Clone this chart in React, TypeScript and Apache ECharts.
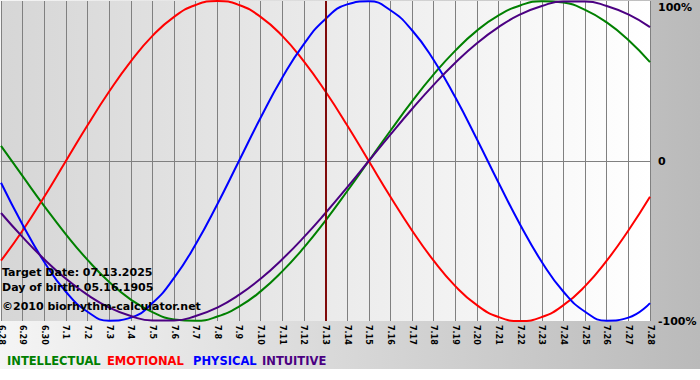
import React, { useEffect, useRef } from "react";
import * as echarts from "echarts";

const categories = [
  "6.28", "6.29", "6.30", "7.1", "7.2", "7.3", "7.4", "7.5", "7.6", "7.7", "7.8",
  "7.9", "7.10", "7.11", "7.12", "7.13", "7.14", "7.15", "7.16", "7.17", "7.18",
  "7.19", "7.20", "7.21", "7.22", "7.23", "7.24", "7.25", "7.26", "7.27", "7.28",
];

const intellectual = [
  9.5, -9.5, -28.2, -45.8, -61.8, -75.6, -86.6, -94.5, -99.0, -99.9, -97.2, -91.0,
  -81.5, -69.0, -54.1, -37.2, -18.9, 0, 18.9, 37.2, 54.1, 69.0, 81.5, 91.0, 97.2,
  99.9, 99.0, 94.5, 86.6, 75.6, 61.8,
];
const emotional = [
  -62.3, -43.4, -22.3, 0, 22.3, 43.4, 62.3, 78.2, 90.1, 97.5, 100, 97.5, 90.1, 78.2,
  62.3, 43.4, 22.3, 0, -22.3, -43.4, -62.3, -78.2, -90.1, -97.5, -100, -97.5, -90.1,
  -78.2, -62.3, -43.4, -22.3,
];
const physical = [
  -13.6, -39.8, -63.1, -81.7, -94.2, -99.8, -97.9, -88.8, -73.1, -52.0, -27.0, 0,
  27.0, 52.0, 73.1, 88.8, 97.9, 99.8, 94.2, 81.7, 63.1, 39.8, 13.6, -13.6, -39.8,
  -63.1, -81.7, -94.2, -99.8, -97.9, -88.8,
];
const intuitive = [
  -32.5, -47.6, -61.4, -73.6, -83.7, -91.6, -96.9, -99.7, -99.7, -96.9, -91.6, -83.7,
  -73.6, -61.4, -47.6, -32.5, -16.5, 0, 16.5, 32.5, 47.6, 61.4, 73.6, 83.7, 91.6,
  96.9, 99.7, 99.7, 96.9, 91.6, 83.7,
];

const targetDay = "7.13";
const infoLines = [
  "Target Date: 07.13.2025",
  "Day of birth: 05.16.1905",
  "\u00a92010 biorhythm-calculator.net",
];
const legendNames = ["INTELLECTUAL", "EMOTIONAL", "PHYSICAL", "INTUITIVE"];
const colors = ["#008000", "#ff0000", "#0000ff", "#4b0082"];

export default function App() {
  const ref = useRef<HTMLDivElement>(null);

  useEffect(() => {
    if (!ref.current) return;
    const chart = echarts.init(ref.current, null, { renderer: "svg" });
    const seriesData = [intellectual, emotional, physical, intuitive];
    const font = '"DejaVu Sans", Verdana, sans-serif';
    const legendX = [7, 107, 193, 262];
    const infoY = [272, 287, 306];

    chart.setOption({
      animation: false,
      backgroundColor: new echarts.graphic.LinearGradient(0, 0, 1, 0, [
        { offset: 0, color: "#f5f5f5" },
        { offset: 1, color: "#bababa" },
      ]),
      grid: {
        left: 1,
        right: 50,
        top: 1,
        bottom: 59,
        outerBoundsMode: "none",
        containLabel: false,
        show: true,
        borderWidth: 0,
        backgroundColor: new echarts.graphic.LinearGradient(0, 0, 1, 0, [
          { offset: 0, color: "#d6d6d6" },
          { offset: 1, color: "#ffffff" },
        ]),
      },
      xAxis: {
        type: "category",
        data: categories,
        boundaryGap: false,
        axisLine: { show: true, lineStyle: { color: "#808080", width: 1 } },
        axisTick: { show: true, length: 3, lineStyle: { color: "#808080" } },
        axisLabel: {
          interval: 0,
          rotate: -90,
          margin: 4,
          color: "#000",
          fontFamily: font,
          fontSize: 8,
          fontWeight: "bold",
        },
        splitLine: { show: true, lineStyle: { color: "#808080", width: 1 } },
      },
      yAxis: {
        type: "value",
        position: "right",
        min: -100,
        max: 100,
        interval: 100,
        axisLine: { show: false },
        axisTick: { show: false },
        axisLabel: {
          margin: 8,
          color: "#000",
          fontFamily: font,
          fontSize: 11,
          fontWeight: "bold",
          formatter: (v: number) =>
            v === 100 ? "{t|100%}" : v === 0 ? "{n|0}" : "{n|" + v + "%}",
          rich: {
            t: { padding: [12, 0, 0, 0], fontFamily: font, fontSize: 11, fontWeight: "bold", color: "#000" },
            n: { fontFamily: font, fontSize: 11, fontWeight: "bold", color: "#000" },
          },
        },
        splitLine: {
          show: true,
          lineStyle: { color: ["transparent", "#808080", "transparent"], width: 1 },
        },
      },
      series: legendNames.map((name, i) => ({
        name,
        type: "line",
        data: seriesData[i],
        smooth: true,
        symbol: "none",
        clip: false,
        lineStyle: { color: colors[i], width: 2 },
        itemStyle: { color: colors[i] },
        z: 3,
        markLine:
          i === 0
            ? {
                silent: true,
                symbol: ["none", "none"],
                label: { show: false },
                lineStyle: { color: "#7f0a0a", width: 2, type: "solid" },
                data: [{ xAxis: targetDay }],
              }
            : undefined,
      })),
      graphic: [
        {
          type: "rect",
          shape: { x: 0, y: 369, width: 700, height: 11 },
          style: { fill: "#ffffff" },
          z: 0,
        },
        ...infoLines.map((t, i) => ({
          type: "text",
          x: 2,
          y: infoY[i],
          z: 10,
          style: {
            text: t,
            fill: "#000",
            font: "bold 11px " + font,
            verticalAlign: "middle",
          },
        })),
        ...legendNames.map((t, i) => ({
          type: "text",
          x: legendX[i],
          y: 361,
          z: 10,
          style: {
            text: t,
            fill: colors[i],
            font: "bold 11.5px " + font,
            verticalAlign: "middle",
          },
        })),
      ],
    });

    return () => chart.dispose();
  }, []);

  return (
    <div
      ref={ref}
      style={{ position: "absolute", left: 0, top: 0, width: 700, height: 380 }}
    />
  );
}
